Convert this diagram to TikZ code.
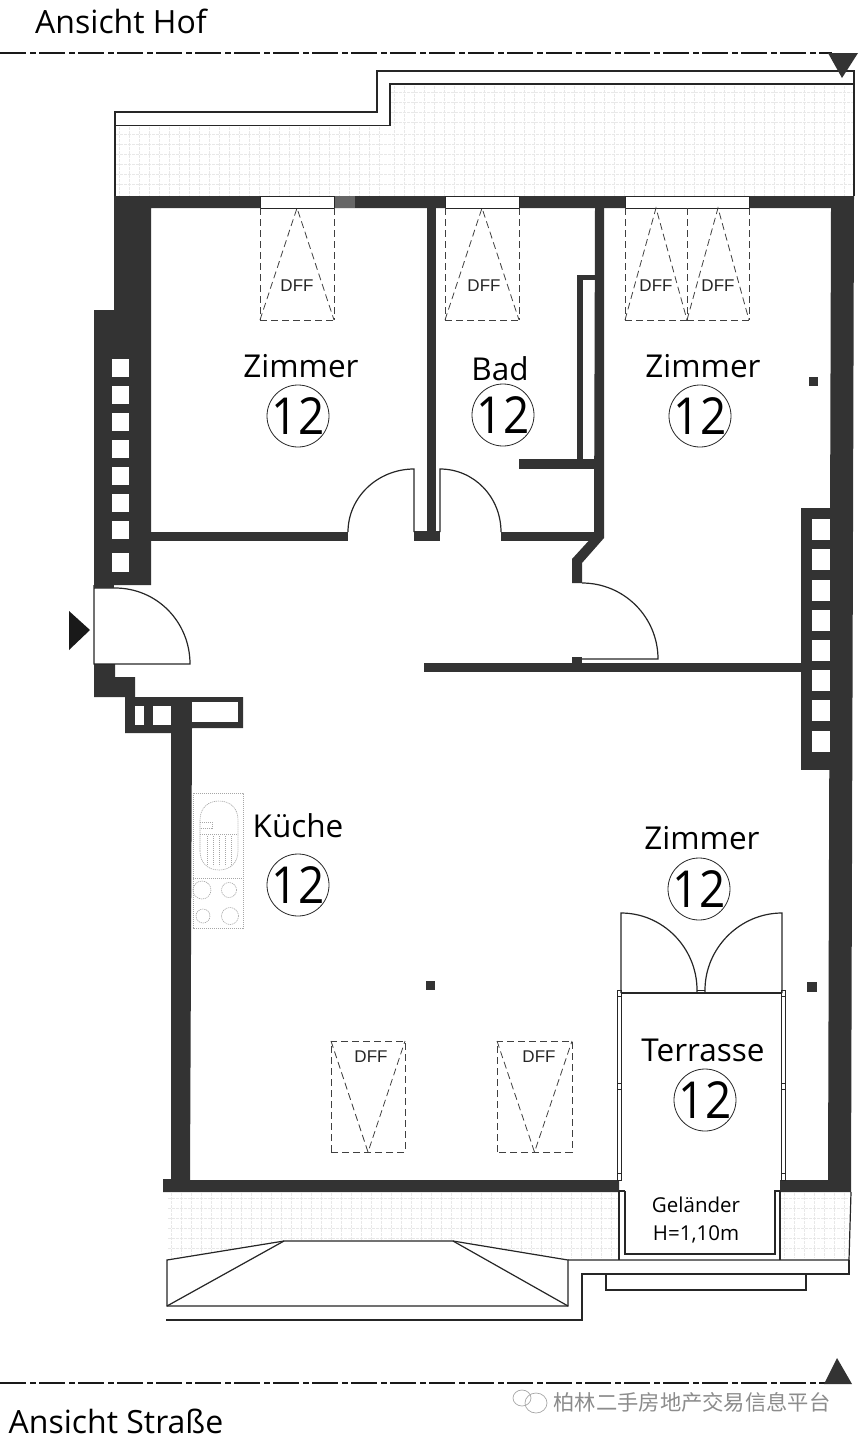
\documentclass[tikz,border=0pt]{standalone}
\usepackage{fontspec}
\setmainfont{Open Sans}
\newfontfamily\dfffont{Liberation Sans}
\newfontfamily\cjkfont{Noto Sans CJK SC}
\newfontfamily\numfont[FakeStretch=0.9]{Open Sans}
\definecolor{wand}{HTML}{333333}
\tikzset{
    wall/.style={fill=wand, draw=none},
    hole/.style={fill=white, draw=none},
    line/.style={draw=black!85, line width=1.2pt},
    thinline/.style={draw=black!85, line width=0.8pt},
    dffline/.style={draw=black!75, line width=0.8pt, dash pattern=on 7pt off 4pt},
    axisline/.style={draw=black!90, line width=1.6pt, dash pattern=on 26pt off 4pt on 6pt off 3pt},
    rasterline/.style={draw=black!9, line width=0.4pt, dash pattern=on 3pt off 1pt},
    hobline/.style={draw=black!35, line width=0.6pt, dash pattern=on 1.2pt off 0.8pt},
    room/.style={font=\fontsize{31.5}{31.5}\selectfont},
    nummer/.style={draw=black!85, line width=0.8pt, circle, minimum size=62pt, inner sep=-12pt, font=\numfont\fontsize{51}{51}\selectfont},
    dfftext/.style={font=\dfffont\fontsize{17}{17}\selectfont, text=black!85},
    note/.style={font=\fontsize{20.5}{20.5}\selectfont},
    ansicht/.style={font=\fontsize{32}{32}\selectfont}
}
\begin{document}
\begin{tikzpicture}[x=1pt, y=-1pt]
    \useasboundingbox (0,0) rectangle (860,1440);

    \coordinate (l01) at (121,21);
    \coordinate (l02) at (116,1421);
    \coordinate (l03) at (301,366);
    \coordinate (l04) at (500,369);
    \coordinate (l05) at (703,366);
    \coordinate (l06) at (298,826);
    \coordinate (l07) at (702,838);
    \coordinate (l08) at (703,1050);
    \coordinate (l09) at (696,1205);
    \coordinate (l10) at (696,1234);
    \coordinate (l11) at (692,1402);

    \coordinate (n01) at (298,416);
    \coordinate (n02) at (503,415);
    \coordinate (n03) at (700,416);
    \coordinate (n04) at (298,885);
    \coordinate (n05) at (699,889);
    \coordinate (n06) at (705,1100);

    % raster
    \foreach \x in {119,129,...,385} \draw[rasterline] (\x,127) -- (\x,196);
    \foreach \x in {394,404,...,850} \draw[rasterline] (\x,86) -- (\x,196);
    \foreach \y in {134,144,...,192} \draw[rasterline] (116,\y) -- (853,\y);
    \foreach \y in {92,102,...,125} \draw[rasterline] (391,\y) -- (853,\y);
    \foreach \x in {171,181,...,615} \draw[rasterline] (\x,1193) -- (\x,1258);
    \foreach \x in {784,794,...,846} \draw[rasterline] (\x,1193) -- (\x,1258);
    \foreach \y in {1198,1208,...,1256} \draw[rasterline] (168,\y) -- (618,\y);
    \foreach \y in {1198,1208,...,1256} \draw[rasterline] (781,\y) -- (848,\y);

    % walls
    \fill[wall] (114,196) -- (854,196) -- (851,1192) -- (780,1192) -- (780,1180)
        -- (828,1180) -- (831,208) -- (151,208) -- (151,585) -- (94,585) -- (94,310)
        -- (114,310) -- cycle;
    \fill[wall] (150,532) rectangle (348,541);
    \fill[wall] (427,208) rectangle (436,532);
    \fill[wall] (414,531) rectangle (440,541);
    \fill[wall] (501,532) rectangle (596,541);
    \fill[wall] (595,208) -- (604,208) -- (604,538) -- (582,563) -- (582,583) -- (572,583)
        -- (572,559) -- (594,535) -- cycle;
    \fill[wall] (577,275) rectangle (595,280);
    \fill[wall] (577,275) rectangle (583,460);
    \fill[wall] (519,459) rectangle (596,469);
    \fill[wall] (424,663) rectangle (803,672);
    \fill[wall] (572,657) rectangle (582,664);
    \fill[wall] (801,508) rectangle (832,770);
    \fill[wall] (94,664) -- (115,664) -- (115,677) -- (135,677) -- (135,697) -- (243,697)
        -- (243,728) -- (192,728) -- (190,1180) -- (619,1180) -- (619,1192) -- (163,1192)
        -- (163,1179) -- (171,1179) -- (171,733) -- (125,733) -- (125,697) -- (94,697) -- cycle;
    \fill[fill=black!60] (335,196) rectangle (355,208);

    % windows
    \foreach \y/\h in {359/18,386/18,413/18,440/18,467/18,494/18,521/18,553/19}
        \fill[hole] (112,\y) rectangle +(17,\h);
    \foreach \y in {519,549,580,610,640,670,700,731}
        \fill[hole] (812,\y) rectangle +(18,21);
    \fill[hole] (135,706) rectangle (144,725);
    \fill[hole] (153,706) rectangle (171,725);
    \fill[hole] (192,702) rectangle (238,722);
    \foreach \a/\b in {260/334,445/519,625/749}
        \filldraw[fill=white, draw=black!85, line width=0.7pt] (\a,196) rectangle (\b,208);

    % columns
    \fill[wall] (809,377) rectangle +(9,9);
    \fill[wall] (426,981) rectangle +(9,9);
    \fill[wall] (807,982) rectangle +(9.5,9.5);

    % roof windows
    \foreach \x in {260,334,445,519,625,687,749}
        \draw[dffline] (\x,208) -- (\x,320);
    \foreach \a/\b in {260/334,445/519,625/687,687/749}{
        \draw[dffline] (\a,320) -- (\b,320);
        \draw[dffline] (\a,320) -- ({(\a+\b)/2},208) -- (\b,320);
    }
    \foreach \a/\b in {331/405,497/572}{
        \draw[dffline] (\a,1152) -- (\a,1041) -- (\b,1041) -- (\b,1152) -- cycle;
        \draw[dffline] (\a,1041) -- ({(\a+\b)/2},1152) -- (\b,1041);
    }
    \node[dfftext] (d01) at (297,286) {DFF};
    \node[dfftext] (d02) at (484,286) {DFF};
    \node[dfftext] (d03) at (656,286) {DFF};
    \node[dfftext] (d04) at (718,286) {DFF};
    \node[dfftext] (d05) at (371,1057) {DFF};
    \node[dfftext] (d06) at (539,1057) {DFF};

    % doors
    \draw[line] (414,532) -- (414,469) .. controls (378,469) and (348,497) .. (348,532);
    \draw[line] (440,532) -- (440,469) .. controls (474,469) and (501,497) .. (501,532);
    \draw[line] (582,659) -- (658,659) .. controls (658,617) and (624,583) .. (582,583);
    \fill[hole] (94,588) rectangle (115,664);
    \draw[line] (94,585) -- (94,664) -- (190,664) .. controls (190,622) and (157,588) .. (115,588) -- (94,588);
    \fill[wall] (94,585) rectangle (114,587.5);

    % terrace
    \draw[line] (621,993) -- (621,913) .. controls (663,913) and (697,948) .. (697,990) -- (697,993);
    \draw[line] (782,993) -- (782,913) .. controls (740,913) and (705,948) .. (705,990) -- (705,993);
    \draw[thinline] (697,990) -- (705,990);
    \draw[line] (621,993) -- (782,993);
    \draw[thinline] (617,990) rectangle (621,1180);
    \draw[thinline] (781,990) rectangle (785,1180);
    \foreach \y in {996,1083,1089,1173}{
        \draw[thinline] (617,\y) -- (621,\y);
        \draw[thinline] (781,\y) -- (785,\y);
    }
    \fill[hole] (622,1180) rectangle (780,1192);

    % balcony
    \draw[line] (115,125.5) -- (115,112) -- (377,112) -- (377,71) -- (854,71) -- (854,196);
    \draw[line] (115,196) -- (115,125.5) -- (390,125.5) -- (390,84) -- (854,84);
    \draw[line] (619,1191) -- (619,1260);
    \draw[line] (780,1191) -- (780,1260);
    \draw[line] (625,1191) -- (625,1254) -- (775,1254) -- (775,1191) -- (780,1191);
    \draw[line] (619,1191) -- (625,1191);
    \draw[line] (851,1192) -- (849,1260) -- (568,1260);
    \draw[line] (849,1260) -- (849,1274) -- (582,1274) -- (582,1320) -- (166,1320);
    \draw[line] (606,1274) -- (606,1290) -- (806,1290) -- (806,1274);
    \filldraw[line, fill=white] (167,1260) -- (284,1241) -- (453,1241) -- (568,1260) -- (568,1306) -- (167,1306) -- cycle;
    \draw[line] (167,1306) -- (284,1241);
    \draw[line] (453,1241) -- (568,1306);

    % kitchen
    \draw[hobline] (193,793) rectangle (243,928);
    \draw[hobline] (193,878) -- (243,878);
    \draw[hobline] (200,851) -- (200,820) .. controls (200,808) and (208,801) .. (219,801)
        .. controls (230,801) and (238,808) .. (238,820) -- (238,851)
        .. controls (238,863) and (230,870) .. (219,870) .. controls (208,870) and (200,863) .. (200,851);
    \draw[hobline] (200,834) -- (238,834);
    \draw[hobline] (200,822) -- (212,822) -- (212,828) -- (200,828);
    \foreach \x in {207,213,219,225,231} \draw[hobline] (\x,836) -- (\x,866);
    \draw[hobline] (202,890) circle [radius=9];
    \draw[hobline] (229,890) circle [radius=7.5];
    \draw[hobline] (203,916) circle [radius=7];
    \draw[hobline] (230,916) circle [radius=8.5];

    % markers
    \draw[axisline] (0,53) -- (832,53);
    \draw[axisline] (0,1383) -- (826,1383);
    \fill[wand] (828,53) -- (858,53) -- (842,78) -- cycle;
    \fill[wand] (824,1384) -- (852,1384) -- (837,1358) -- cycle;
    \fill[black!90] (69,611) -- (69,650) -- (90,630) -- cycle;

    % labels
    \node[ansicht] (a01) at (l01) {Ansicht Hof};
    \node[ansicht] (a02) at (l02) {Ansicht Straße};
    \node[room] (r01) at (l03) {Zimmer};
    \node[room] (r02) at (l04) {Bad};
    \node[room] (r03) at (l05) {Zimmer};
    \node[room] (r04) at (l06) {Küche};
    \node[room] (r05) at (l07) {Zimmer};
    \node[room] (r06) at (l08) {Terrasse};
    \node[nummer] (c01) at (n01) {12};
    \node[nummer] (c02) at (n02) {12};
    \node[nummer] (c03) at (n03) {12};
    \node[nummer] (c04) at (n04) {12};
    \node[nummer] (c05) at (n05) {12};
    \node[nummer] (c06) at (n06) {12};
    \node[note] (g01) at (l09) {Geländer};
    \node[note] (g02) at (l10) {H=1,10m};

    % watermark
    \draw[black!35, line width=0.7pt] (536,1403) ellipse [x radius=11, y radius=10];
    \draw[black!35, line width=0.7pt] (522,1398) ellipse [x radius=9, y radius=8];
    \node[font=\cjkfont\fontsize{21.3}{21.3}\selectfont, text=black!45] (w01) at (l11) {柏林二手房地产交易信息平台};
\end{tikzpicture}
\end{document}
